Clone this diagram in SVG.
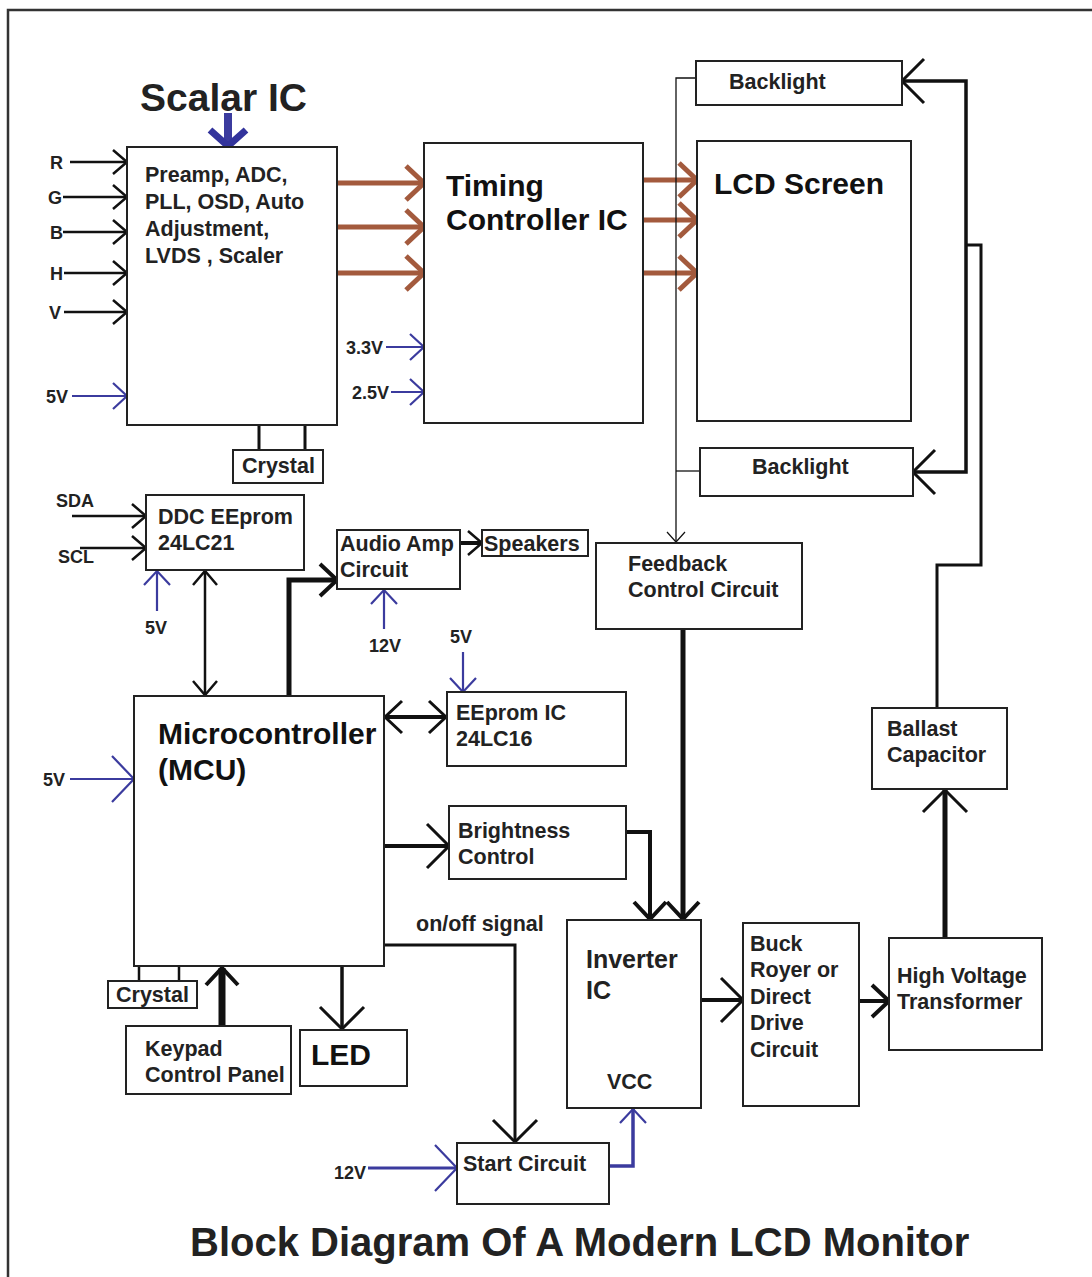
<svg xmlns="http://www.w3.org/2000/svg" width="1092" height="1277" viewBox="0 0 1092 1277">
<style>
.box{fill:#fff;stroke:#222;stroke-width:2}
.t{font-family:"Liberation Sans",Arial,sans-serif;font-weight:bold;fill:#222}
.s21{font-size:21.5px}
.s18{font-size:18px}
.s29{font-size:30px;fill:#111}
.c{fill:none;stroke:#111;stroke-linejoin:miter}
.blue{fill:none;stroke:#3b3b9e}
.brown{fill:none;stroke:#a35a3d;stroke-width:5}
</style>
<defs>
<marker id="a-in" markerUnits="userSpaceOnUse" markerWidth="20" markerHeight="30" refX="14" refY="12" orient="auto" overflow="visible"><path d="M0,0 L14,12 L0,24" fill="none" stroke="#111" stroke-width="2.5"/></marker>
<marker id="a-in2" markerUnits="userSpaceOnUse" markerWidth="20" markerHeight="30" refX="14" refY="12" orient="auto-start-reverse" overflow="visible"><path d="M0,0 L14,12 L0,24" fill="none" stroke="#111" stroke-width="2.5"/></marker>
<marker id="a-blue" markerUnits="userSpaceOnUse" markerWidth="20" markerHeight="30" refX="14" refY="13" orient="auto" overflow="visible"><path d="M0,0 L14,13 L0,26" fill="none" stroke="#3b3b9e" stroke-width="2.2"/></marker>
<marker id="a-blueL" markerUnits="userSpaceOnUse" markerWidth="30" markerHeight="50" refX="22" refY="23" orient="auto" overflow="visible"><path d="M0,0 L22,23 L0,46" fill="none" stroke="#3b3b9e" stroke-width="2.2"/></marker>
<marker id="a-bigblue" markerUnits="userSpaceOnUse" markerWidth="30" markerHeight="40" refX="16" refY="18" orient="auto" overflow="visible"><path d="M0,0 L16,18 L0,36" fill="none" stroke="#33349c" stroke-width="7"/></marker>
<marker id="a-brown" markerUnits="userSpaceOnUse" markerWidth="30" markerHeight="40" refX="18" refY="17" orient="auto" overflow="visible"><path d="M0,0 L18,17 L0,34" fill="none" stroke="#a35a3d" stroke-width="5"/></marker>
<marker id="a-thick" markerUnits="userSpaceOnUse" markerWidth="30" markerHeight="40" refX="17" refY="16" orient="auto" overflow="visible"><path d="M0,0 L17,16 L0,32" fill="none" stroke="#111" stroke-width="4"/></marker>
<marker id="a-thick2" markerUnits="userSpaceOnUse" markerWidth="30" markerHeight="40" refX="17" refY="16" orient="auto-start-reverse" overflow="visible"><path d="M0,0 L17,16 L0,32" fill="none" stroke="#111" stroke-width="3"/></marker>
<marker id="a-big" markerUnits="userSpaceOnUse" markerWidth="30" markerHeight="50" refX="22" refY="22" orient="auto" overflow="visible"><path d="M0,0 L22,22 L0,44" fill="none" stroke="#111" stroke-width="3"/></marker>
<marker id="a-thin" markerUnits="userSpaceOnUse" markerWidth="20" markerHeight="30" refX="10" refY="9" orient="auto" overflow="visible"><path d="M0,0 L10,9 L0,18" fill="none" stroke="#111" stroke-width="1.2"/></marker>
</defs>
<rect width="1092" height="1277" fill="#fff"/>
<path d="M8,1277 V10 H1092" fill="none" stroke="#333" stroke-width="2.5"/>

<g id="connectors">
<path class="c" stroke-width="2.5" d="M70,162 H127" marker-end="url(#a-in)"/>
<path class="c" stroke-width="2.5" d="M63,197 H127" marker-end="url(#a-in)"/>
<path class="c" stroke-width="2.5" d="M63,232 H127" marker-end="url(#a-in)"/>
<path class="c" stroke-width="2.5" d="M64,273 H127" marker-end="url(#a-in)"/>
<path class="c" stroke-width="2.5" d="M64,312 H127" marker-end="url(#a-in)"/>
<path class="blue" stroke-width="2.2" d="M72,396 H127" marker-end="url(#a-blue)"/>
<path class="blue" stroke-width="8" stroke="#33349c" d="M228,113 V146" marker-end="url(#a-bigblue)"/>
<path class="brown" d="M337,183 H424" marker-end="url(#a-brown)"/>
<path class="brown" d="M337,227 H424" marker-end="url(#a-brown)"/>
<path class="brown" d="M337,273 H424" marker-end="url(#a-brown)"/>
<path class="blue" stroke-width="2.2" d="M386,347 H424" marker-end="url(#a-blue)"/>
<path class="blue" stroke-width="2.2" d="M391,392 H424" marker-end="url(#a-blue)"/>
<path class="brown" d="M643,180 H697" marker-end="url(#a-brown)"/>
<path class="brown" d="M643,220 H697" marker-end="url(#a-brown)"/>
<path class="brown" d="M643,273 H697" marker-end="url(#a-brown)"/>
<path class="c" stroke-width="3" d="M259,425 V450 M305,425 V450"/>
<path class="c" stroke-width="1.3" d="M696,78 H676 V542" marker-end="url(#a-thin)"/>
<path class="c" stroke-width="1.3" d="M676,471 H700"/>
<path class="c" stroke-width="3.5" d="M966,245 V81 H902" marker-end="url(#a-big)"/>
<path class="c" stroke-width="3.5" d="M966,245 V472 H913" marker-end="url(#a-big)"/>
<path class="c" stroke-width="3" d="M937,708 V565 H981 V245 H966"/>
<path class="c" stroke-width="2.5" d="M72,516 H146" marker-end="url(#a-in)"/>
<path class="c" stroke-width="2.5" d="M80,548 H146" marker-end="url(#a-in)"/>
<path class="blue" stroke-width="2.2" d="M157,611 V571" marker-end="url(#a-blue)"/>
<path class="c" stroke-width="2.5" d="M205,571 V695" marker-start="url(#a-in2)" marker-end="url(#a-in2)"/>
<path class="c" stroke-width="5" d="M289,696 V580 H337" marker-end="url(#a-thick)"/>
<path class="c" stroke-width="4" d="M460,543 H482" marker-end="url(#a-in)"/>
<path class="blue" stroke-width="2.2" d="M384,629 V590" marker-end="url(#a-blue)"/>
<path class="blue" stroke-width="2.2" d="M463,652 V692" marker-end="url(#a-blue)"/>
<path class="c" stroke-width="4" d="M385,717 H446" marker-start="url(#a-thick2)" marker-end="url(#a-thick2)"/>
<path class="blue" stroke-width="2.2" d="M70,779 H134" marker-end="url(#a-blueL)"/>
<path class="c" stroke-width="4" d="M384,846 H449" marker-end="url(#a-big)"/>
<path class="c" stroke-width="4" d="M626,832 H650 V919" marker-end="url(#a-thick)"/>
<path class="c" stroke-width="5" d="M683,629 V919" marker-end="url(#a-thick)"/>
<path class="c" stroke-width="3" d="M384,945 H515 V1142" marker-end="url(#a-big)"/>
<path class="c" stroke-width="2.5" d="M139,966 V981 M179,966 V981"/>
<path class="c" stroke-width="7" d="M222,1026 V968" marker-end="url(#a-thick)"/>
<path class="c" stroke-width="3.5" d="M342,966 V1029" marker-end="url(#a-big)"/>
<path class="c" stroke-width="4" d="M701,1000 H743" marker-end="url(#a-big)"/>
<path class="c" stroke-width="4" d="M859,1001 H889" marker-end="url(#a-thick)"/>
<path class="c" stroke-width="5" d="M945,938 V790" marker-end="url(#a-big)"/>
<path class="blue" stroke-width="3" d="M368,1168 H457" marker-end="url(#a-blueL)"/>
<path class="blue" stroke-width="3.5" d="M609,1166 H633 V1109" marker-end="url(#a-blue)"/>
</g>

<g id="labels">
<text class="t s18" x="50" y="169">R</text>
<text class="t s18" x="48" y="204">G</text>
<text class="t s18" x="50" y="239">B</text>
<text class="t s18" x="50" y="280">H</text>
<text class="t s18" x="49" y="319">V</text>
<text class="t s18" x="46" y="403">5V</text>
<text class="t s18" x="346" y="354">3.3V</text>
<text class="t s18" x="352" y="399">2.5V</text>
<text class="t s18" x="56" y="507">SDA</text>
<text class="t s18" x="58" y="563">SCL</text>
<text class="t s18" x="145" y="634">5V</text>
<text class="t s18" x="369" y="652">12V</text>
<text class="t s18" x="450" y="643">5V</text>
<text class="t s18" x="43" y="786">5V</text>
<text class="t s18" x="334" y="1179">12V</text>
<text class="t s21" x="416" y="931">on/off signal</text>
</g>

<g id="scalar">
<text class="t" x="140" y="111" font-size="39" fill="#111">Scalar IC</text>
<rect class="box" x="127" y="147" width="210" height="278"/>
<text class="t s21" x="145" y="182">Preamp, ADC,</text>
<text class="t s21" x="145" y="209">PLL, OSD, Auto</text>
<text class="t s21" x="145" y="236">Adjustment,</text>
<text class="t s21" x="145" y="263">LVDS , Scaler</text>
</g>
<g id="crystal1">
<rect class="box" x="233" y="450" width="90" height="33"/>
<text class="t s21" x="242" y="473">Crystal</text>
</g>
<g id="timing">
<rect class="box" x="424" y="143" width="219" height="280"/>
<text class="t s29" x="446" y="196">Timing</text>
<text class="t s29" x="446" y="230">Controller IC</text>
</g>
<g id="backlight-top">
<rect class="box" x="696" y="61" width="206" height="44"/>
<text class="t s21" x="729" y="89">Backlight</text>
</g>
<g id="lcd">
<rect class="box" x="697" y="141" width="214" height="280"/>
<text class="t s29" x="714" y="194">LCD Screen</text>
</g>
<g id="backlight-bottom">
<rect class="box" x="700" y="448" width="213" height="48"/>
<text class="t s21" x="752" y="474">Backlight</text>
</g>
<g id="ddc">
<rect class="box" x="146" y="495" width="158" height="75"/>
<text class="t s21" x="158" y="524">DDC EEprom</text>
<text class="t s21" x="158" y="550">24LC21</text>
</g>
<g id="audio">
<rect class="box" x="337" y="530" width="123" height="59"/>
<text class="t s21" x="340" y="551">Audio Amp</text>
<text class="t s21" x="340" y="577">Circuit</text>
</g>
<g id="speakers">
<rect class="box" x="482" y="530" width="106" height="26"/>
<text class="t s21" x="484" y="551">Speakers</text>
</g>
<g id="feedback">
<rect class="box" x="596" y="543" width="206" height="86"/>
<text class="t s21" x="628" y="571">Feedback</text>
<text class="t s21" x="628" y="597">Control Circuit</text>
</g>
<g id="mcu">
<rect class="box" x="134" y="696" width="250" height="270"/>
<text class="t s29" x="158" y="744">Microcontroller</text>
<text class="t s29" x="158" y="780">(MCU)</text>
</g>
<g id="eeprom">
<rect class="box" x="447" y="692" width="179" height="74"/>
<text class="t s21" x="456" y="720">EEprom IC</text>
<text class="t s21" x="456" y="746">24LC16</text>
</g>
<g id="ballast">
<rect class="box" x="872" y="708" width="135" height="81"/>
<text class="t s21" x="887" y="736">Ballast</text>
<text class="t s21" x="887" y="762">Capacitor</text>
</g>
<g id="brightness">
<rect class="box" x="449" y="806" width="177" height="73"/>
<text class="t s21" x="458" y="838">Brightness</text>
<text class="t s21" x="458" y="864">Control</text>
</g>
<g id="inverter">
<rect class="box" x="567" y="920" width="134" height="188"/>
<text class="t" font-size="25" x="586" y="968">Inverter</text>
<text class="t" font-size="25" x="586" y="999">IC</text>
<text class="t s21" x="607" y="1089">VCC</text>
</g>
<g id="buck">
<rect class="box" x="743" y="923" width="116" height="183"/>
<text class="t s21" x="750" y="951">Buck</text>
<text class="t s21" x="750" y="977">Royer or</text>
<text class="t s21" x="750" y="1004">Direct</text>
<text class="t s21" x="750" y="1030">Drive</text>
<text class="t s21" x="750" y="1057">Circuit</text>
</g>
<g id="hvt">
<rect class="box" x="889" y="938" width="153" height="112"/>
<text class="t s21" x="897" y="983">High Voltage</text>
<text class="t s21" x="897" y="1009">Transformer</text>
</g>
<g id="crystal2">
<rect class="box" x="108" y="981" width="89" height="27"/>
<text class="t s21" x="116" y="1002">Crystal</text>
</g>
<g id="keypad">
<rect class="box" x="126" y="1026" width="165" height="68"/>
<text class="t s21" x="145" y="1056">Keypad</text>
<text class="t s21" x="145" y="1082">Control Panel</text>
</g>
<g id="led">
<rect class="box" x="300" y="1030" width="107" height="56"/>
<text class="t s29" x="311" y="1065">LED</text>
</g>
<g id="start">
<rect class="box" x="457" y="1143" width="152" height="61"/>
<text class="t s21" x="463" y="1171">Start Circuit</text>
</g>
<text class="t" x="190" y="1256" font-size="40" fill="#111">Block Diagram Of A Modern LCD Monitor</text>
</svg>
